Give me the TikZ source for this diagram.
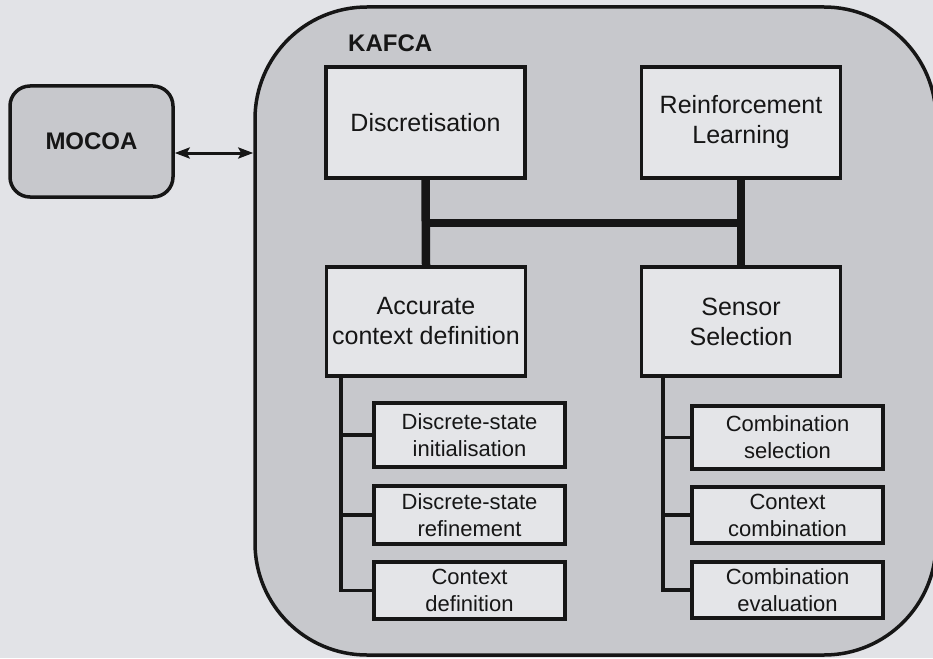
\documentclass[tikz,border=0pt]{standalone}
\usepackage{fontspec}
\setmainfont{Liberation Sans}
\usetikzlibrary{arrows.meta}
\definecolor{paper}{HTML}{E2E3E7}
\definecolor{panel}{HTML}{C7C8CC}
\definecolor{boxfill}{HTML}{E4E5E8}
\definecolor{ink}{HTML}{161616}
\tikzset{
  outerbox/.style={draw=ink, line width=3.5pt, fill=panel, inner sep=0pt},
  mainbox/.style={draw=ink, line width=3.5pt, fill=boxfill, text=ink,
    minimum width=199pt, minimum height=111pt, inner sep=0pt, align=center,
    font=\fontsize{25}{30}\selectfont},
  subbox/.style={draw=ink, line width=3.5pt, fill=boxfill, text=ink,
    minimum width=191pt, inner sep=0pt, align=center,
    font=\fontsize{22}{27}\selectfont},
  heavy/.style={draw=ink, line width=8.5pt},
  tree/.style={draw=ink, line width=3.5pt},
  biarrow/.style={draw=ink, line width=3pt,
    {Stealth[length=15pt,width=11pt,inset=3pt]}-{Stealth[length=15pt,width=11pt,inset=3pt]}},
  title/.style={text=ink, font=\fontsize{24}{28}\selectfont\bfseries, inner sep=0pt}
}
\begin{document}
\begin{tikzpicture}[x=1pt,y=-1pt]
  \path[use as bounding box, fill=paper] (0,0) rectangle (933,658);
  \clip (0,0) rectangle (933,658);

  % framework panel and the external middleware
  \node[outerbox, rounded corners=112pt, minimum width=681pt, minimum height=648pt]
    (kafca) at (595.5,331) {};
  \node[title, anchor=base west] (kafcalabel) at (348,52) {KAFCA};
  \node[outerbox, rounded corners=20pt, minimum width=163pt, minimum height=111pt,
    text=ink, font=\fontsize{24}{28}\selectfont\bfseries] (mocoa) at (91.5,141.5) {MOCOA};
  \coordinate (link) at (kafca.west |- 0,153);
  \draw[biarrow] (mocoa.east |- link) -- (link);

  % main modules
  \node[mainbox] (disc) at (425.5,122.5) {Discretisation};
  \node[mainbox] (rl)   at (741,122.5)   {Reinforcement\\Learning};
  \node[mainbox, minimum height=109pt] (acc)  at (426,321.5) {Accurate\\context definition};
  \node[mainbox, minimum height=109pt] (sens) at (741,321.5) {Sensor\\Selection};

  % heavy interconnection between the modules
  \coordinate (jl) at (disc.south |- 0,223);
  \coordinate (jr) at (rl.south |- 0,223);
  \draw[heavy] (disc.south) -- (acc.north);
  \draw[heavy] (rl.south) -- (sens.north);
  \draw[heavy] (jl) -- (jr);

  % sub-tasks of accurate context definition
  \node[subbox, minimum height=64pt] (a1) at (469.5,435)   {Discrete-state\\initialisation};
  \node[subbox, minimum height=58pt] (a2) at (469.5,515)   {Discrete-state\\refinement};
  \node[subbox, minimum height=57pt] (a3) at (469.5,590.5) {Context\\definition};
  \coordinate (ta) at (341,0);
  \draw[tree] (ta |- acc.south) |- (a3.west);
  \draw[tree] (ta |- a1.west) -- (a1.west);
  \draw[tree] (ta |- a2.west) -- (a2.west);

  % sub-tasks of sensor selection
  \node[subbox, minimum height=63pt] (s1) at (787.5,437.5) {Combination\\selection};
  \node[subbox, minimum height=56pt] (s2) at (787.5,515)   {Context\\combination};
  \node[subbox, minimum height=56pt] (s3) at (787.5,590)   {Combination\\evaluation};
  \coordinate (ts) at (663,0);
  \draw[tree] (ts |- sens.south) |- (s3.west);
  \draw[tree] (ts |- s1.west) -- (s1.west);
  \draw[tree] (ts |- s2.west) -- (s2.west);
\end{tikzpicture}
\end{document}
